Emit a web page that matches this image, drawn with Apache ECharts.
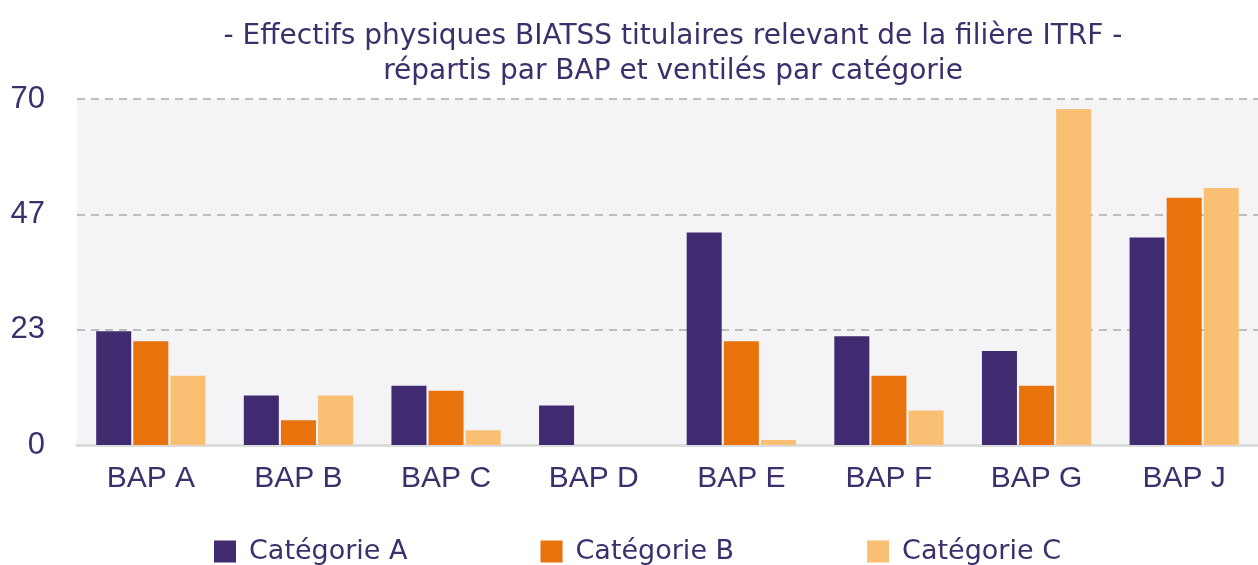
<!DOCTYPE html>
<html>
<head>
<meta charset="utf-8">
<script src="https://cdn.jsdelivr.net/npm/echarts@6/dist/echarts.min.js"></script>
<style>html,body{margin:0;padding:0;background:#fff;}#c{width:1258px;height:565px;}</style>
</head>
<body>
<div id="c"></div>
<script>
const categories = ['BAP A','BAP B','BAP C','BAP D','BAP E','BAP F','BAP G','BAP J'];
const seriesNames = ['Catégorie A','Catégorie B','Catégorie C'];
const catA = [23, 10, 12, 8, 43, 22, 19, 42];
const catB = [21, 5, 11, 0, 21, 14, 12, 50];
const catC = [14, 10, 3, 0, 1, 7, 68, 52];
const yMax = 70;
const yTickCount = 3;

const colors = ['#402a70', '#e8730c', '#f9bf72'];
const textColor = '#3d2f6b';
const fontA = '"Liberation Sans", Arial, sans-serif';
const fontD = '"DejaVu Sans", sans-serif';

const chart = echarts.init(document.getElementById('c'), null, {renderer: 'canvas'});
const mkSeries = (name, data, i) => ({
  name, type: 'bar', data,
  barGap: '6%', barCategoryGap: '26%',
  itemStyle: {color: colors[i]},
  emphasis: {disabled: true}
});
chart.setOption({
  animation: false,
  textStyle: {fontFamily: fontA},
  title: {
    text: '- Effectifs physiques BIATSS titulaires relevant de la filière ITRF -\nrépartis par BAP et ventilés par catégorie',
    left: 668, top: 14, textAlign: 'center',
    textStyle: {color: textColor, fontSize: 28, fontWeight: 'normal', lineHeight: 35, fontFamily: fontD}
  },
  legend: {
    data: seriesNames, left: 209, top: 533,
    itemWidth: 22, itemHeight: 22, itemGap: 133,
    icon: 'rect',
    textStyle: {color: textColor, fontSize: 27, fontFamily: fontD, padding: [0,0,0,8]}
  },
  grid: {left: 77, right: 0, top: 99, bottom: 120, show: true, backgroundColor: '#f4f4f6', borderWidth: 0},
  xAxis: {
    type: 'category', data: categories,
    axisLine: {lineStyle: {color: '#dcdcdc', width: 3}},
    axisTick: {show: false},
    axisLabel: {color: textColor, fontSize: 30, margin: 19, fontFamily: fontA}
  },
  yAxis: {
    type: 'value', min: 0, max: yMax, interval: yMax / yTickCount,
    axisLine: {show: false}, axisTick: {show: false},
    axisLabel: {color: textColor, fontSize: 31, margin: 32, fontFamily: fontA, formatter: v => Math.round(v)},
    splitLine: {lineStyle: {color: '#bdbdbd', width: 2, type: [8, 6]}}
  },
  series: [mkSeries(seriesNames[0], catA, 0), mkSeries(seriesNames[1], catB, 1), mkSeries(seriesNames[2], catC, 2)]
});
</script>
</body>
</html>
